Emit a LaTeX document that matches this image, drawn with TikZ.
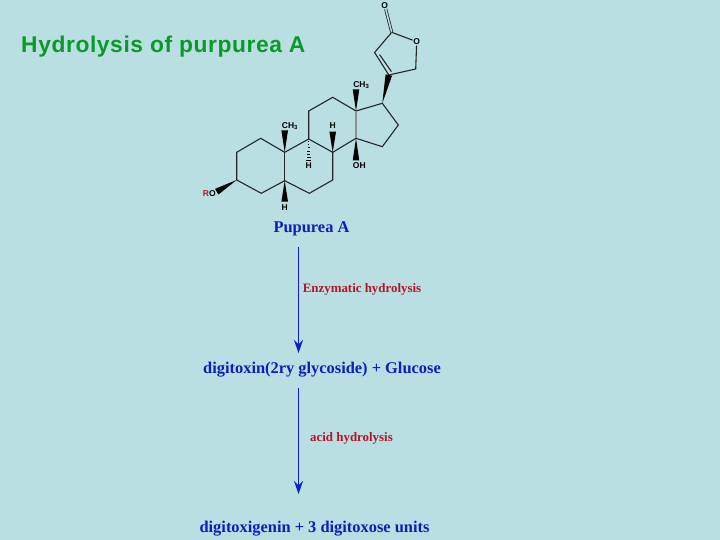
\documentclass[tikz,border=0pt]{standalone}
\usepackage{fontspec}
\setmainfont{Liberation Serif}
\setsansfont{Liberation Sans}
\newfontfamily\titlefont[LetterSpace=2.6]{Liberation Sans}
\usepackage{tikz}
\usetikzlibrary{arrows.meta,calc}

\definecolor{slidebg}{HTML}{B9DFE3}
\definecolor{titlegreen}{HTML}{0A9A28}
\definecolor{namedblue}{HTML}{0C1EBC}
\definecolor{arrowblue}{HTML}{0C1FD0}
\definecolor{agentred}{HTML}{B5142A}

\tikzset{
  titletext/.style={text=titlegreen,anchor=west,inner sep=0pt,font=\titlefont\bfseries\fontsize{22.8}{26}\selectfont},
  compound/.style={text=namedblue,inner sep=0pt,font=\bfseries\fontsize{16.4}{19}\selectfont},
  agent/.style={text=agentred,inner sep=0pt,font=\bfseries\fontsize{12.9}{15}\selectfont},
  atomlabel/.style={inner sep=0.6pt,font=\sffamily\bfseries\fontsize{8.5}{9}\selectfont},
  bond/.style={line width=1.1pt,black!85},
  reaction/.style={-{Stealth[length=13pt,width=9pt]},line width=1.5pt,arrowblue}
}

\newcommand{\wedgebond}[2]{\fill[black] (#1) -- ($(#2)!3.3pt!90:(#1)$) -- ($(#2)!3.3pt!-90:(#1)$) -- cycle;}

\begin{document}
\begin{tikzpicture}[x=1pt,y=-1pt]
  \fill[slidebg] (0,0) rectangle (720,540);
  \useasboundingbox (0,0) rectangle (720,540);

  \node (title) at (21,46.5) [titletext] {Hydrolysis of purpurea A};

  % ring atoms
  \coordinate (c1)  at (260.7,138.3);
  \coordinate (c2)  at (236.7,152.3);
  \coordinate (c3)  at (236.7,180);
  \coordinate (c4)  at (261.3,193.3);
  \coordinate (c5)  at (284.7,180.7);
  \coordinate (c6)  at (309.3,193.3);
  \coordinate (c7)  at (332.7,180);
  \coordinate (c8)  at (332.7,152.3);
  \coordinate (c9)  at (308.7,139);
  \coordinate (c10) at (284.7,152.3);
  \coordinate (c11) at (308.7,111);
  \coordinate (c12) at (332.7,97.3);
  \coordinate (c13) at (356,111);
  \coordinate (c14) at (356,138.3);
  \coordinate (c15) at (382.3,146.7);
  \coordinate (c16) at (398.3,125);
  \coordinate (c17) at (382.3,103.3);
  \coordinate (c20) at (388.8,75);
  \coordinate (c21) at (374.6,52.5);
  \coordinate (c22) at (391.7,32.3);
  \coordinate (c23) at (415.7,69);
  \coordinate (c21i) at (379.6,54.6);
  \coordinate (c20i) at (391.4,71.6);

  % wedge ends
  \coordinate (w10) at (284.7,130.5);
  \coordinate (w13) at (356,89.3);
  \coordinate (w8)  at (332.7,131.7);
  \coordinate (w14) at (356,160.5);
  \coordinate (w5)  at (284.7,201.7);
  \coordinate (w3)  at (216.7,191.7);

  \node (oring)  at (416.7,41.7) [atomlabel] {O};
  \node (ocarb)  at (384.7,5.3)  [atomlabel] {O};
  \node (me19)   at (290,126)    [atomlabel] {CH\textsubscript{3}};
  \node (me18)   at (361.3,85)   [atomlabel] {CH\textsubscript{3}};
  \node (h8)     at (332.7,125.3) [atomlabel] {H};
  \node (h9)     at (308.7,166)  [atomlabel] {H};
  \node (oh14)   at (359.3,166)  [atomlabel] {OH};
  \node (h5)     at (284.7,207.7) [atomlabel] {H};
  \node (ro)     at (209.3,194)  [atomlabel] {\textcolor{agentred}{R}O};

  \draw[bond] (c1) -- (c2) -- (c3) -- (c4) -- (c5) -- (c6) -- (c7) -- (c8) -- (c9) -- (c10) -- (c1);
  \draw[bond] (c5) -- (c10);
  \draw[bond] (c9) -- (c11) -- (c12) -- (c13) -- (c17) -- (c16) -- (c15) -- (c14) -- (c8);
  \draw[line width=1.1pt,black!45] (c13) -- (c14);
  \draw[bond] (c20) -- (c21) -- (c22) -- (oring) -- (c23) -- (c20);
  \draw[bond] (c21i) -- (c20i);
  \draw[bond,double=slidebg,double distance=1.5pt,line width=0.8pt] (c22) -- (ocarb);

  \wedgebond{c10}{w10}
  \wedgebond{c13}{w13}
  \wedgebond{c8}{w8}
  \wedgebond{c14}{w14}
  \wedgebond{c5}{w5}
  \wedgebond{c3}{w3}
  \wedgebond{c17}{c20}
  \foreach \t in {0.12,0.25,...,1.0}
    \draw[line width=0.7pt,black] ($(c9)!\t!(h9.north)+(-2.6*\t,0)$) -- ($(c9)!\t!(h9.north)+(2.6*\t,0)$);

  \node (pupurea)   at (311.5,228.5) [compound] {Pupurea A};
  \node (enzyme)    at (362,289)     [agent] {Enzymatic hydrolysis};
  \node (digitoxin) at (322,370)     [compound] {digitoxin(2ry glycoside) + Glucose};
  \node (acid)      at (351.5,438)   [agent] {acid hydrolysis};
  \node (genin)     at (314.5,529)   [compound] {digitoxigenin + 3 digitoxose units};

  \coordinate (arrowa) at (298.5,247);
  \coordinate (arrowb) at (298.5,353);
  \coordinate (arrowc) at (298.5,388);
  \coordinate (arrowd) at (298.5,494);
  \draw[reaction] (arrowa) -- (arrowb);
  \draw[reaction] (arrowc) -- (arrowd);
\end{tikzpicture}
\end{document}
